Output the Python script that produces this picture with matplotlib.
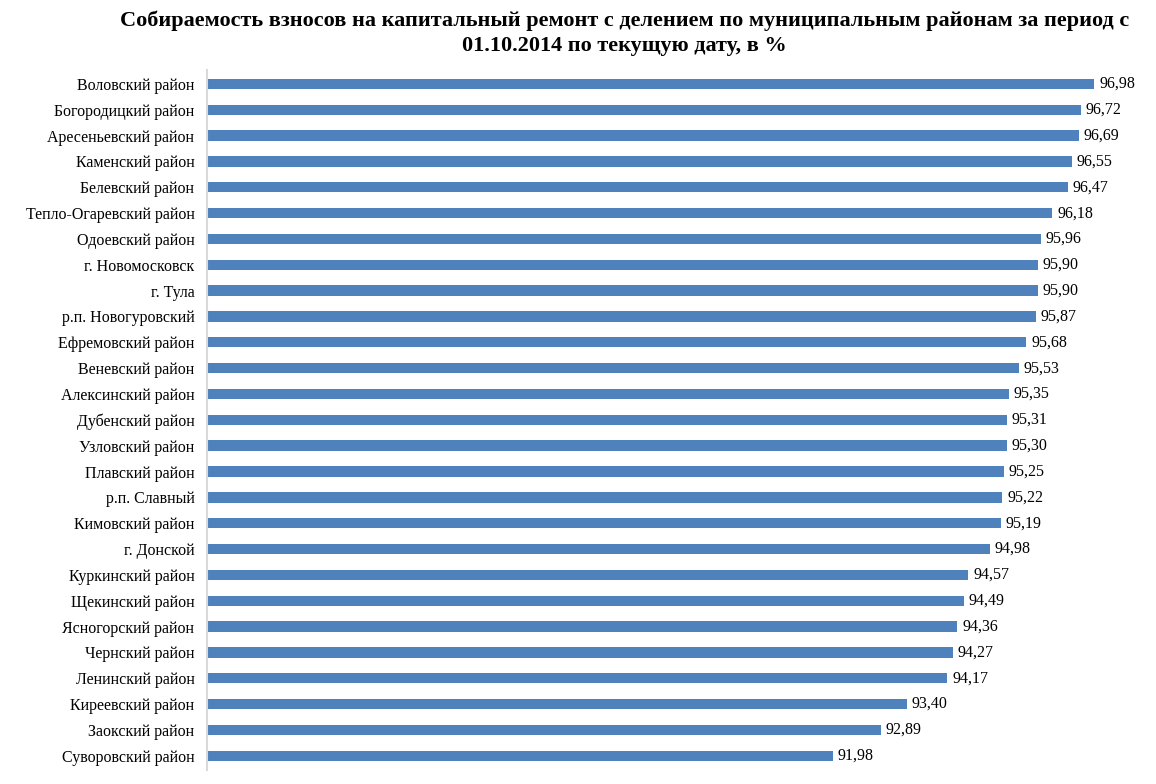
import matplotlib.pyplot as plt

plt.rcParams['font.family'] = ['Liberation Serif', 'DejaVu Serif']

districts = [
    'Воловский район', 'Богородицкий район', 'Аресеньевский район', 'Каменский район',
    'Белевский район', 'Тепло-Огаревский район', 'Одоевский район', 'г. Новомосковск',
    'г. Тула', 'р.п. Новогуровский', 'Ефремовский район', 'Веневский район',
    'Алексинский район', 'Дубенский район', 'Узловский район', 'Плавский район',
    'р.п. Славный', 'Кимовский район', 'г. Донской', 'Куркинский район',
    'Щекинский район', 'Ясногорский район', 'Чернский район', 'Ленинский район',
    'Киреевский район', 'Заокский район', 'Суворовский район',
]
values = [
    96.98, 96.72, 96.69, 96.55, 96.47, 96.18, 95.96, 95.90, 95.90, 95.87,
    95.68, 95.53, 95.35, 95.31, 95.30, 95.25, 95.22, 95.19, 94.98, 94.57,
    94.49, 94.36, 94.27, 94.17, 93.40, 92.89, 91.98,
]

fig = plt.figure(figsize=(11.56, 7.84), dpi=100)
ax = fig.add_axes([0.179, 0.018, 0.816, 0.893])

y = list(range(len(districts)))[::-1]
ax.barh(y, values, height=0.4, color='#4f81bd')

# подписи значений с запятой
for yy, v in zip(y, values):
    ax.text(v + 0.09, yy, f'{v:.2f}'.replace('.', ','), va='center', ha='left', fontsize=11.5)

ax.set_xlim(80, 98.05)
ax.set_ylim(-0.55, len(districts) - 0.45)
ax.set_yticks(y)
ax.set_yticklabels(districts, fontsize=11.5)
ax.tick_params(axis='y', length=0, pad=9)
ax.set_xticks([])
for s in ['top', 'right', 'bottom']:
    ax.spines[s].set_visible(False)
ax.spines['left'].set_color('#d9d9d9')
ax.spines['left'].set_linewidth(1.5)

fig.suptitle('Собираемость взносов на капитальный ремонт с делением по муниципальным районам за период с\n'
             '01.10.2014 по текущую дату, в %',
             x=0.54, y=0.987, fontsize=16, fontweight='bold', linespacing=1.35)

fig.savefig('out.png', dpi=100)
